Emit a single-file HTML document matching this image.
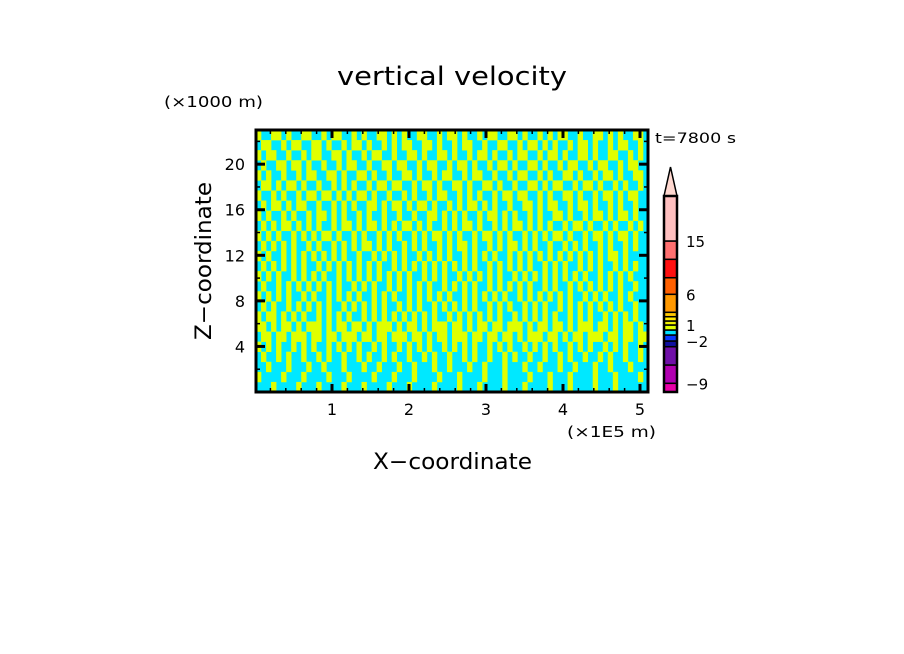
<!DOCTYPE html>
<html><head><meta charset="utf-8"><style>
html,body{margin:0;padding:0;background:#fff;}
svg{display:block;font-family:"DejaVu Sans","Liberation Sans",sans-serif;}
</style></head><body>
<svg id="chart" width="904" height="654" viewBox="0 0 904 654">
<text x="337" y="85" font-size="26" textLength="230" lengthAdjust="spacingAndGlyphs">vertical velocity</text>
<text x="164" y="107" font-size="15" textLength="99" lengthAdjust="spacingAndGlyphs">(×1000 m)</text>
<text x="655" y="143" font-size="14" textLength="81" lengthAdjust="spacingAndGlyphs">t=7800 s</text>
<text x="567" y="437" font-size="15" textLength="89" lengthAdjust="spacingAndGlyphs">(×1E5 m)</text>
<text x="373" y="469" font-size="22" textLength="159" lengthAdjust="spacingAndGlyphs">X−coordinate</text>
<text transform="translate(211,340) rotate(-90)" font-size="22" textLength="158" lengthAdjust="spacingAndGlyphs">Z−coordinate</text>
<g id="cells"></g>
<g id="axes"></g>
<g id="cbar"></g>
</svg>
<script>
const xTicks=[1,2,3,4,5];
const zTicks=[4,8,12,16,20];
const cbarLevels=[-12,-9,-6,-3,-2,-1,0,1,2,3,4,6,9,12,15,21];
const cbarColors=["#e800a8","#b000b0","#7010a8","#1010a0","#0838ff","#00e0ff","#e0ff00","#f0f000","#ffe800","#ffc800","#ff9800","#ff6000","#ff1010","#ff7070","#ffc0c0"];
const cbarLabels=[-9,-2,1,6,15];
const cellRows=[
"Y..YY.Y..YY..Y.YY..Y.Y..YY.Y.Y..YY..Y.YY.Y..Y.YY..YY.Y..Y.Y.YY..Y..YY.Y.Y..YY",
".YY..Y.YY..YY.Y..Y.YY.Y..Y.Y.YY..YY.Y..Y.YY..Y..YY..Y.YY.Y.Y..Y.YY.Y..Y.YY..Y",
"Y.YY..Y..Y.YY..YY.Y..Y.YY..Y..YY.Y..YY.Y..Y.YY.Y..Y.YY..Y.YY.Y..YY.Y..YY..Y.Y",
".Y..YY.YY.Y..Y..Y.YY..Y..YY.YY..Y.YY..Y.YY.Y..Y.YY.Y..YY.Y..Y.YY..Y.YY..Y.YY.",
"Y.Y..Y..Y.YY..YY.Y..YY.Y..Y..YY.Y..Y.YY..Y.YY..Y..Y.YY..Y.Y..YY.Y..Y.YY.Y..YY",
".YY.Y.YY.Y..Y..Y.Y.Y..Y.YY.YY..Y.YY.Y..YY.Y..YY.Y..Y..YY.Y.YY..Y.YY.Y..Y.Y..Y",
"Y..Y.Y..Y.YY.YY.Y.Y.YY.Y..Y..Y.Y..Y.YY..Y.Y.Y..Y.YY.YY..Y.Y..YY.Y..Y.YY.Y.YY.",
".Y.YY.Y.YY..Y..Y.Y.Y..YY.Y.YY.Y.YY.Y..Y.Y.YY.Y.Y..Y..YY.Y.YY..Y.YY.Y..Y.Y..Y",
"Y.Y..Y.Y..Y.YY.Y.Y..Y.Y..Y..Y..Y..YY.Y.Y.Y..Y.YY.Y.Y..Y.Y..YY.Y..Y.YY.Y.YY.Y.",
".Y.Y.YY.Y.Y.Y..Y.YY.Y.YY.Y.Y.YY.Y.Y..Y.Y.YY.Y..Y.Y.YY.Y.Y.Y..Y.YY.Y..Y.Y..Y.Y",
"Y.Y.Y..Y.Y.Y.YY.Y..Y.Y..Y.Y.Y..Y.Y.YY.Y.Y..Y.YY.Y.Y..Y.Y.Y.YY.Y..Y.YY.Y.YY.Y.",
".Y.Y.Y.Y..Y.Y..Y.Y.Y.YY.Y.Y..Y.Y.Y..Y.Y.YY.Y..Y.Y.YY.Y.Y..Y..Y.Y.Y..Y.Y..Y.Y",
"Y.Y..Y.Y.Y.Y.Y.Y.Y..Y..Y.Y.Y.Y..Y.Y.Y.Y..Y.Y.Y.Y..Y.Y.Y.Y.Y.Y.Y.Y.Y.Y.YY.Y.",
".Y.Y.Y.Y.Y..Y.Y.Y.Y.Y.Y.Y..Y.Y.Y.Y.Y.Y.Y.Y.Y..Y.Y.Y.Y.Y..Y.Y.Y..Y.Y.Y..Y.Y.Y",
"Y.Y.Y..Y.Y.Y.Y..Y.Y.Y.Y.Y.Y.Y.Y..Y.Y.Y..Y.Y.Y.Y.Y..Y.Y.Y.Y.Y.Y.Y.Y..Y.Y.Y.Y.",
".Y..Y.Y.Y.Y.Y.Y.Y..Y.Y.Y..Y.Y.Y.Y.Y..Y.Y.Y.Y..Y.Y.Y.Y.Y..Y.Y..Y.Y.Y.Y.Y.Y..Y",
"Y.Y.Y.Y..Y.Y..Y.Y.Y.Y..Y.Y.Y..Y.Y.Y.Y.Y..Y.Y.Y.Y.Y..Y.Y.Y.Y.Y.Y..Y.Y.Y..Y.Y.",
".Y.Y..Y.Y.Y.Y.Y..Y.Y.Y.Y.Y..Y.Y.Y..Y.Y.Y.Y.Y..Y.Y.Y..Y.Y.Y..Y.Y.Y.Y.Y.Y.Y..Y",
"Y.YY.Y.Y.Y..Y.Y.Y.Y..Y.Y.Y.Y.Y.Y.Y.Y..Y.Y.Y.Y.Y.Y..Y.Y.Y.Y.Y..Y.Y.Y..Y.Y.Y.Y",
"YY.Y.YY.Y.YYY.Y.YY.YY.Y.YYY.Y.YY.Y.YYY.YY.Y.YY.YY.YYY.Y.YY.YY.Y.YYY.YY.Y.YY.Y",
".YY.YY.YYY.YY.YY.YYY.YY.YY.YYY.YY.Y.YY.YYY.YY.YY.YY.Y.YYY.YY.Y.YY.YYY.YY.YY.YY",
"Y.Y.Y..Y.Y.Y..Y.Y.Y.Y..Y.Y..Y.Y.Y.Y..Y.Y.Y.Y..Y.Y.Y..Y.Y.Y.Y..Y.Y.Y..Y.Y.Y..Y",
".Y..Y.Y..Y..Y.Y..Y..Y.Y..Y.Y..Y..Y.Y..Y..Y.Y..Y..Y.Y..Y..Y..Y.Y..Y..Y.Y..Y..Y",
"..Y...Y...Y..Y...Y...Y..Y...Y..Y...Y..Y...Y..Y...Y...Y..Y...Y..Y...Y..Y...Y..",
"Y....Y...Y....Y...Y....Y...Y...Y....Y...Y....Y...Y....Y...Y...Y....Y...Y....Y",
"...Y....Y...Y....Y...Y....Y...Y....Y....Y...Y....Y...Y....Y...Y....Y...Y....."
];
const NS="http://www.w3.org/2000/svg";
const L=256,R=648,T=130,B=392,ZMAX=23,XMAX=(648-255)/77;
const xs=v=>255+v*77;
const zs=v=>B-(v/ZMAX)*(B-T);
function mk(tag,attrs,parent){const e=document.createElementNS(NS,tag);for(const k in attrs)e.setAttribute(k,attrs[k]);parent.appendChild(e);return e;}
const cells=document.getElementById('cells');
const nr=cellRows.length,nc=78;
const cw=(R-L)/nc,ch=(B-T)/nr;
const bg=mk('rect',{x:L,y:T,width:R-L,height:B-T,fill:"#00e8ff"},cells);


cellRows.forEach((row,i)=>{
  for(let j=0;j<Math.min(nc,row.length);j++){
    if(row[j]==='Y'){
      const r=mk('rect',{x:(L+j*cw).toFixed(2),y:(T+i*ch).toFixed(2),width:(cw+0.3).toFixed(2),height:(ch+0.3).toFixed(2),fill:"#e0ff00"},cells);
      
      
    }
  }
});
const ax=document.getElementById('axes');
const frame=mk('rect',{x:L,y:T,width:R-L,height:B-T,fill:"none",stroke:"#000","stroke-width":3},ax);


for(let v=0.2;v<XMAX;v+=0.2){
  const major=Math.abs(v-Math.round(v))<0.01;const len=major?8:4;const x=xs(v);
  mk('line',{x1:x,y1:B,x2:x,y2:B-len,stroke:"#000","stroke-width":major?3:1.5},ax);
  mk('line',{x1:x,y1:T,x2:x,y2:T+len,stroke:"#000","stroke-width":major?3:1.5},ax);
}
for(let v=2;v<ZMAX;v+=2){
  const major=v%4===0;const len=major?9:4;const y=zs(v);
  mk('line',{x1:L,y1:y,x2:L+len,y2:y,stroke:"#000","stroke-width":major?3:1.5},ax);
  mk('line',{x1:R,y1:y,x2:R-len,y2:y,stroke:"#000","stroke-width":major?3:1.5},ax);
}
xTicks.forEach(v=>{const t=mk('text',{x:xs(v),y:415,"font-size":16,"text-anchor":"middle"},ax);t.textContent=v;

});
zTicks.forEach(v=>{const t=mk('text',{x:245,y:zs(v)+6,"font-size":16,"text-anchor":"end"},ax);t.textContent=v;

});
const cb=document.getElementById('cbar');
const cbX=664,cbW=13,cbTop=196,cbBot=392;
// colorbar position for a level: piecewise-linear over measured boundaries (visual layout, not data)
const cbBounds=[391.7,383.3,365,346.7,341,335,330,325,321,316.7,312.3,294.3,277.7,259.3,241,196];
const cbY=lv=>{const k=cbarLevels.indexOf(lv);return cbBounds[Math.max(0,Math.min(cbBounds.length-1,k))];};
cbarColors.forEach((c,k)=>{const y0=cbY(cbarLevels[k]),y1=cbY(cbarLevels[k+1]);
const r=mk('rect',{x:cbX,y:y1,width:cbW,height:y0-y1,fill:c,stroke:"#000","stroke-width":1.5},cb);

});
const tri=mk('polygon',{points:`${cbX},${cbTop} ${cbX+cbW},${cbTop} ${cbX+cbW/2},${cbTop-29}`,fill:"#ffd8d0",stroke:"#000","stroke-width":1.5},cb);


mk('rect',{x:cbX,y:cbTop,width:cbW,height:cbBot-cbTop,fill:"none",stroke:"#000","stroke-width":2.5},cb);
cbarLabels.forEach(v=>{const y=cbY(v);
const t=mk('text',{x:686,y:y+6,"font-size":15},cb);t.textContent=v<0?"−"+Math.abs(v):v;

});
</script>
</body></html>
